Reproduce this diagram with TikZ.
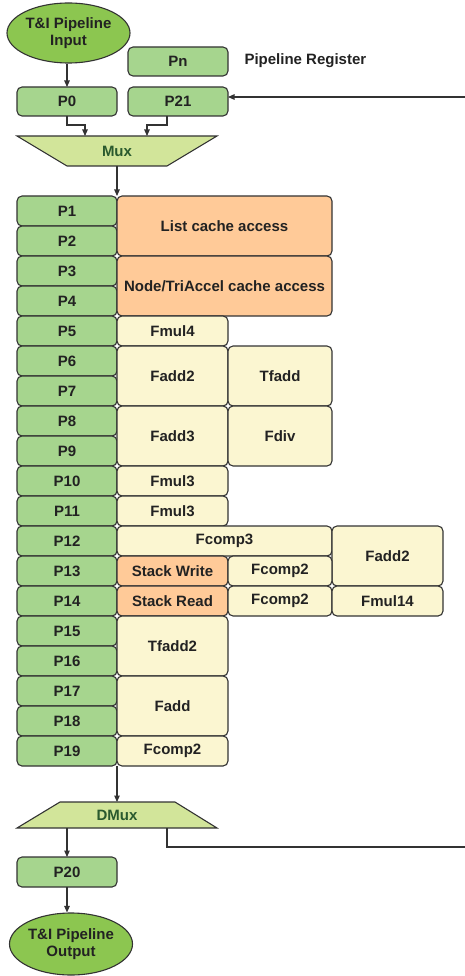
\documentclass[tikz,border=0pt]{standalone}
\usepackage{fontspec}
\setmainfont{Liberation Sans}
\usetikzlibrary{shapes.geometric,arrows.meta}
\definecolor{regfill}{HTML}{A6D58E}
\definecolor{ovalfill}{HTML}{8CC650}
\definecolor{memfill}{HTML}{FFCA98}
\definecolor{alufill}{HTML}{FBF6D1}
\definecolor{muxfill}{HTML}{D2E59A}
\definecolor{muxtext}{HTML}{2A5A2E}
\definecolor{edge}{HTML}{333333}
\definecolor{ink}{HTML}{222222}
\tikzset{
  box/.style={draw=edge, line width=1.1pt, rounded corners=5pt, inner sep=0pt, outer sep=0pt,
              font=\bfseries\fontsize{15}{16}\selectfont, text=ink, align=center},
  reg/.style={box, fill=regfill},
  mem/.style={box, fill=memfill},
  alu/.style={box, fill=alufill},
  oval/.style={ellipse, draw=edge, line width=1.1pt, fill=ovalfill, inner sep=0pt,
               font=\bfseries\fontsize{15}{17}\selectfont, text=ink, align=center},
  muxshape/.style={draw=edge, line width=1.1pt, fill=muxfill},
  muxlabel/.style={font=\bfseries\fontsize{15}{16}\selectfont, text=muxtext},
  link/.style={draw=edge, line width=1.1pt},
  arr/.style={link, -{Triangle[length=6.5pt,width=5.5pt]}},
}
% block: style, name, x1, y1, x2, y2, label
\newcommand\blk[7]{%
  \pgfmathsetmacro\bw{#5-#3}\pgfmathsetmacro\bh{#6-#4}%
  \node[#1, minimum width=\bw pt, minimum height=\bh pt] (#2) at ({(#3+#5)/2},{(#4+#6)/2}) {#7};}
\begin{document}
\begin{tikzpicture}[x=1pt,y=-1pt]
\useasboundingbox (0,0) rectangle (465,976);

% input, legend and first registers
\node[oval, minimum width=123pt, minimum height=60pt] (in) at (68.5,33) {T\&I Pipeline\\Input};
\blk{reg}{pn}{128}{47}{228}{76}{Pn}
\node[anchor=west, font=\bfseries\fontsize{15}{16}\selectfont, text=ink] (legend) at (241,61) {Pipeline Register};
\blk{reg}{p0}{17}{87}{117}{116}{P0}
\blk{reg}{p21}{128}{87}{228}{116}{P21}

% multiplexer
\path[muxshape] (17,136) -- (217,136) -- (167,166) -- (67,166) -- cycle;
\node[muxlabel] (mux) at (117,151) {Mux};
\coordinate (muxinA) at (85,136);
\coordinate (muxinB) at (147,136);
\coordinate (muxout) at (117,166);

% register column
\blk{reg}{p1}{17}{196}{117}{226}{P1}
\blk{reg}{p2}{17}{226}{117}{256}{P2}
\blk{reg}{p3}{17}{256}{117}{286}{P3}
\blk{reg}{p4}{17}{286}{117}{316}{P4}
\blk{reg}{p5}{17}{316}{117}{346}{P5}
\blk{reg}{p6}{17}{346}{117}{376}{P6}
\blk{reg}{p7}{17}{376}{117}{406}{P7}
\blk{reg}{p8}{17}{406}{117}{436}{P8}
\blk{reg}{p9}{17}{436}{117}{466}{P9}
\blk{reg}{p10}{17}{466}{117}{496}{P10}
\blk{reg}{p11}{17}{496}{117}{526}{P11}
\blk{reg}{p12}{17}{526}{117}{556}{P12}
\blk{reg}{p13}{17}{556}{117}{586}{P13}
\blk{reg}{p14}{17}{586}{117}{616}{P14}
\blk{reg}{p15}{17}{616}{117}{646}{P15}
\blk{reg}{p16}{17}{646}{117}{676}{P16}
\blk{reg}{p17}{17}{676}{117}{706}{P17}
\blk{reg}{p18}{17}{706}{117}{736}{P18}
\blk{reg}{p19}{17}{736}{117}{766}{P19}

% functional units per stage
\blk{mem}{listc}{117}{196}{332}{256}{List cache access}
\blk{mem}{nodec}{117}{256}{332}{316}{Node/TriAccel cache access}
\blk{alu}{fmulA}{117}{316}{228}{346}{Fmul4}
\blk{alu}{faddA}{117}{346}{228}{406}{Fadd2}
\blk{alu}{tfaddA}{228}{346}{332}{406}{Tfadd}
\blk{alu}{faddB}{117}{406}{228}{466}{Fadd3}
\blk{alu}{fdiv}{228}{406}{332}{466}{Fdiv}
\blk{alu}{fmulB}{117}{466}{228}{496}{Fmul3}
\blk{alu}{fmulC}{117}{496}{228}{526}{Fmul3}
\blk{alu}{fcompA}{117}{526}{332}{556}{Fcomp3}
\blk{alu}{faddC}{332}{526}{443}{586}{Fadd2}
\blk{mem}{stw}{117}{556}{228}{586}{Stack Write}
\blk{alu}{fcompB}{228}{556}{332}{586}{Fcomp2}
\blk{mem}{str}{117}{586}{228}{616}{Stack Read}
\blk{alu}{fcompC}{228}{586}{332}{616}{Fcomp2}
\blk{alu}{fmulD}{332}{586}{443}{616}{Fmul14}
\blk{alu}{tfaddB}{117}{616}{228}{676}{Tfadd2}
\blk{alu}{faddD}{117}{676}{228}{736}{Fadd}
\blk{alu}{fcompD}{117}{736}{228}{766}{Fcomp2}

% demultiplexer
\path[muxshape] (60,802) -- (175,802) -- (217,828) -- (17,828) -- cycle;
\node[muxlabel] (dmux) at (117,815) {DMux};
\coordinate (dmuxin) at (117,802);
\coordinate (dmuxoutA) at (67,828);
\coordinate (dmuxoutB) at (167,828);

% output
\blk{reg}{p20}{17}{857}{117}{887}{P20}
\node[oval, minimum width=123pt, minimum height=62pt] (out) at (71,944) {T\&I Pipeline\\Output};

% loop-back ends at the right margin
\coordinate (loopin) at (465,97);
\coordinate (loopout) at (465,847);

% connectors
\draw[arr] (in.south -| p0) -- (p0.north);
\draw[arr] (p0.south) |- (67,125) -| (muxinA);
\draw[arr] (167,116) |- (147,125) -- (muxinB);
\draw[arr] (loopin) -- (p21.east |- loopin);
\draw[arr] (muxout) -- (p1.north east);
\draw[arr] (p19.south east) -- (dmuxin);
\draw[arr] (dmuxoutA) -- (p20.north);
\draw[link] (dmuxoutB) |- (loopout);
\draw[arr] (p20.south) -- (p20.south |- out.north);
\end{tikzpicture}
\end{document}
